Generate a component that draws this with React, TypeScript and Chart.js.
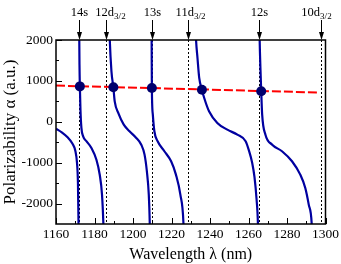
import React, { useEffect, useRef } from "react";
import { Chart, registerables } from "chart.js";

Chart.register(...registerables);

// Resonances (nm) and their labels
const resonanceNames = ["14s", "12d", "13s", "11d", "12s", "10d"];
const resonanceSubs = ["", "3/2", "", "3/2", "", "3/2"];
const resonanceWavelengths = [1171.9, 1186.2, 1209.7, 1228.7, 1265.7, 1297.7];

// Polarizability branches (λ nm, α a.u.)
const branch1Lambda = [1160, 1163, 1166, 1168.5, 1170, 1170.9, 1171.4, 1171.7, 1171.8];
const branch1Alpha = [-170, -260, -380, -530, -700, -1000, -1500, -2500, -3200];

const branch2Lambda = [1172.0, 1172.2, 1172.4, 1172.7, 1173.2, 1174.1, 1175.9, 1178.4, 1181.0, 1182.7, 1183.9, 1184.6, 1184.9];
const branch2Alpha = [2600, 1400, 860, 300, -150, -355, -480, -640, -930, -1290, -1780, -2480, -3000];

const branch3Lambda = [1187.6, 1187.9, 1188.8, 1189.8, 1190.5, 1192.5, 1195.2, 1198.2, 1201.7, 1204.3, 1206.0, 1207.2, 1208.2, 1208.7, 1208.9];
const branch3Alpha = [2600, 2050, 1235, 845, 500, 200, -70, -232, -396, -560, -804, -1210, -1782, -2474, -3000];

const branch4Lambda = [1209.6, 1209.7, 1209.8, 1210.3, 1211.1, 1212.8, 1216.3, 1219.8, 1222.3, 1224.6, 1226.2, 1226.5];
const branch4Alpha = [2600, 1800, 830, 174, -232, -477, -721, -966, -1293, -1782, -2474, -3000];

const branch5Lambda = [1232.3, 1232.7, 1233.5, 1234.4, 1235.8, 1237.0, 1239.5, 1243.8, 1249.0, 1254.2, 1258.5, 1260.2, 1261.9, 1263.1, 1264.2, 1264.9, 1265.1];
const branch5Alpha = [2600, 2049, 1560, 1071, 785, 582, 257, -29, -193, -315, -477, -700, -1000, -1350, -1900, -2500, -3000];

const branch6Lambda = [1265.6, 1265.8, 1266.2, 1266.6, 1267.1, 1268.8, 1272.3, 1277.4, 1282.6, 1286.9, 1289.5, 1291.3, 1292.8, 1293.2];
const branch6Alpha = [2600, 2000, 1300, 750, 174, -315, -560, -721, -966, -1293, -1619, -2027, -2474, -3000];

// Ground-state (scalar) polarizability, dashed red
const groundLambda = [1160, 1297];
const groundAlpha = [885, 715];

// Magic wavelengths
const magicLambda = [1172.4, 1189.8, 1209.8, 1235.8, 1266.6];
const magicAlpha = [865, 843, 826, 785, 746];

// Axis ticks
const xMajorTicks = [1160, 1180, 1200, 1220, 1240, 1260, 1280, 1300];
const xMinorTicks = [1170, 1190, 1210, 1230, 1250, 1270, 1290];
const yMajorTicks = [-2000, -1000, 0, 1000, 2000];
const yMinorTicks = [-1500, -500, 500, 1500];

const zip = (xs: number[], ys: number[]) => xs.map((x, i) => ({ x, y: ys[i] }));

const SERIF = "'Liberation Serif', 'Times New Roman', serif";
const BLUE = "#0000a0";
const labelOffsets = [0, 4, 0, 2, 0, -5];

const decorPlugin = {
  id: "decor",
  beforeDatasetsDraw(chart: any) {
    const { ctx, chartArea, scales } = chart;
    const { top, bottom } = chartArea;
    ctx.save();
    ctx.strokeStyle = "#000";
    ctx.lineWidth = 1;
    ctx.setLineDash([2, 2]);
    resonanceWavelengths.forEach((w) => {
      const px = Math.round(scales.x.getPixelForValue(w)) + 0.5;
      ctx.beginPath();
      ctx.moveTo(px, top);
      ctx.lineTo(px, bottom);
      ctx.stroke();
    });
    ctx.restore();
  },
  afterDraw(chart: any) {
    const { ctx, chartArea, scales } = chart;
    const { left, right, top, bottom } = chartArea;
    ctx.save();
    ctx.strokeStyle = "#000";
    ctx.lineWidth = 1.5;
    ctx.setLineDash([]);
    ctx.strokeRect(left, top, right - left, bottom - top);
    ctx.lineWidth = 1;
    const drawX = (v: number, len: number) => {
      const px = Math.round(scales.x.getPixelForValue(v)) + 0.5;
      ctx.beginPath();
      ctx.moveTo(px, bottom);
      ctx.lineTo(px, bottom - len);
      ctx.stroke();
    };
    xMajorTicks.forEach((v) => drawX(v, 6));
    xMinorTicks.forEach((v) => drawX(v, 3));
    const drawY = (v: number, len: number) => {
      const py = Math.round(scales.y.getPixelForValue(v)) + 0.5;
      ctx.beginPath();
      ctx.moveTo(left, py);
      ctx.lineTo(left + len, py);
      ctx.stroke();
    };
    yMajorTicks.forEach((v) => drawY(v, 6));
    yMinorTicks.forEach((v) => drawY(v, 3));

    ctx.fillStyle = "#000";
    resonanceWavelengths.forEach((w, i) => {
      const px = Math.round(scales.x.getPixelForValue(w)) + 0.5;
      ctx.beginPath();
      ctx.moveTo(px, 20);
      ctx.lineTo(px, top - 6);
      ctx.stroke();
      ctx.beginPath();
      ctx.moveTo(px - 2.5, top - 8);
      ctx.lineTo(px + 2.5, top - 8);
      ctx.lineTo(px, top);
      ctx.closePath();
      ctx.fill();

      ctx.font = `12.5px ${SERIF}`;
      const mainW = ctx.measureText(resonanceNames[i]).width;
      ctx.font = `9px ${SERIF}`;
      const subW = resonanceSubs[i] ? ctx.measureText(resonanceSubs[i]).width : 0;
      const total = mainW + subW;
      const x0 = px - total / 2 + labelOffsets[i];
      ctx.textBaseline = "alphabetic";
      ctx.textAlign = "left";
      ctx.font = `12.5px ${SERIF}`;
      ctx.fillText(resonanceNames[i], x0, 16);
      if (resonanceSubs[i]) {
        ctx.font = `9px ${SERIF}`;
        ctx.fillText(resonanceSubs[i], x0 + mainW, 19);
      }
    });
    ctx.restore();
  },
};

export default function App() {
  const canvasRef = useRef<HTMLCanvasElement | null>(null);

  useEffect(() => {
    if (!canvasRef.current) return;
    const branches = [
      zip(branch1Lambda, branch1Alpha),
      zip(branch2Lambda, branch2Alpha),
      zip(branch3Lambda, branch3Alpha),
      zip(branch4Lambda, branch4Alpha),
      zip(branch5Lambda, branch5Alpha),
      zip(branch6Lambda, branch6Alpha),
    ];
    const datasets: any[] = [
      {
        data: zip(magicLambda, magicAlpha),
        showLine: false,
        pointRadius: 5,
        pointBackgroundColor: "#00006e",
        pointBorderColor: "#00006e",
        pointBorderWidth: 0,
        order: 0,
      },
      ...branches.map((d) => ({
        data: d,
        borderColor: BLUE,
        borderWidth: 2.2,
        pointRadius: 0,
        cubicInterpolationMode: "monotone",
        fill: false,
        order: 1,
      })),
      {
        data: zip(groundLambda, groundAlpha),
        borderColor: "#ff0000",
        borderWidth: 2,
        borderDash: [9, 3],
        pointRadius: 0,
        fill: false,
        order: 2,
      },
    ];

    const chart = new Chart(canvasRef.current, {
      type: "line",
      data: { datasets },
      options: {
        animation: false,
        responsive: false,
        devicePixelRatio: 1,
        events: [],
        layout: { padding: { left: 0, top: 40, right: 14, bottom: 0 } },
        plugins: { legend: { display: false }, tooltip: { enabled: false } },
        scales: {
          x: {
            type: "linear",
            min: 1160,
            max: 1300,
            afterBuildTicks: (s: any) => {
              s.ticks = xMajorTicks.map((v) => ({ value: v }));
            },
            afterFit: (s: any) => {
              s.height = 40;
            },
            grid: { display: false, drawTicks: false },
            border: { display: false },
            ticks: {
              color: "#000",
              padding: 2,
              maxRotation: 0,
              font: { family: SERIF, size: 13.5 },
              callback: (v: any) => String(v),
            },
            title: {
              display: true,
              text: "Wavelength λ (nm)",
              color: "#000",
              font: { family: SERIF, size: 16, lineHeight: 1.2 },
              padding: { top: 0, bottom: 0 },
            },
          },
          y: {
            type: "linear",
            min: -2500,
            max: 2000,
            afterBuildTicks: (s: any) => {
              s.ticks = yMajorTicks.map((v) => ({ value: v }));
            },
            afterFit: (s: any) => {
              s.width = 56;
            },
            grid: { display: false, drawTicks: false },
            border: { display: false },
            ticks: {
              color: "#000",
              padding: 3,
              font: { family: SERIF, size: 13.5 },
              callback: (v: any) => String(v),
            },
            title: {
              display: true,
              text: "Polarizability α (a.u.)",
              color: "#000",
              font: { family: SERIF, size: 17, lineHeight: 1.2 },
              padding: { top: 0, bottom: 0 },
            },
          },
        },
      },
      plugins: [decorPlugin],
    } as any);
    return () => chart.destroy();
  }, []);

  return (
    <div style={{ position: "absolute", left: 0, top: 0, width: 341, height: 264, background: "#fff" }}>
      <canvas ref={canvasRef} width={341} height={264} style={{ display: "block" }} />
    </div>
  );
}
